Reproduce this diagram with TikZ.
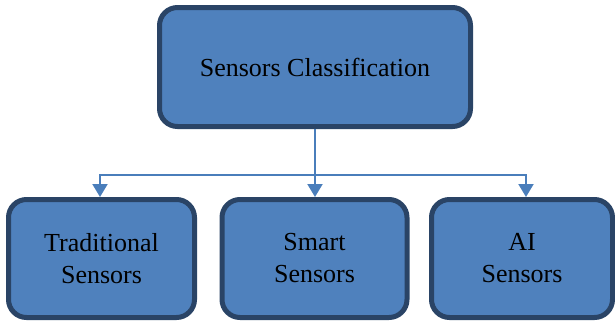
\documentclass[tikz,border=0pt]{standalone}
\usepackage{fontspec}
\setmainfont{Liberation Serif}
\usetikzlibrary{arrows.meta}
\definecolor{boxfill}{HTML}{4F81BD}
\definecolor{boxline}{HTML}{2A4466}
\definecolor{connline}{HTML}{4A7EBB}
\tikzset{
  catbox/.style={draw=boxline, fill=boxfill, line width=5pt, rounded corners=18pt,
    align=center, inner sep=0pt, font=\fontsize{26}{32}\selectfont},
  conn/.style={draw=connline, line width=2pt},
  arr/.style={-{Triangle[length=13pt,width=15pt]}}
}
\begin{document}
\begin{tikzpicture}[x=1pt,y=-1pt]
  \useasboundingbox (0,0) rectangle (615,322);
  % root category
  \node[catbox, minimum width=311pt, minimum height=119pt] (top) at (315,67) {Sensors Classification};
  % sensor families
  \node[catbox, minimum width=186pt, minimum height=118pt] (left) at (101.5,258.5) {Traditional\\Sensors};
  \node[catbox, minimum width=185pt, minimum height=118pt] (mid) at (314.5,258.5) {Smart\\Sensors};
  \node[catbox, minimum width=181pt, minimum height=118pt] (right) at (522,258.5) {AI\\Sensors};
  % tree connectors
  \coordinate (j) at (top.south |- 0,174.5);
  \draw[conn] (top.south) -- (j);
  \draw[conn, arr] (j) -- (j |- mid.north);
  \draw[conn, arr] (j) -| ([xshift=-1.5pt]left.north);
  \draw[conn, arr] (j) -| ([xshift=4pt]right.north);
\end{tikzpicture}
\end{document}
